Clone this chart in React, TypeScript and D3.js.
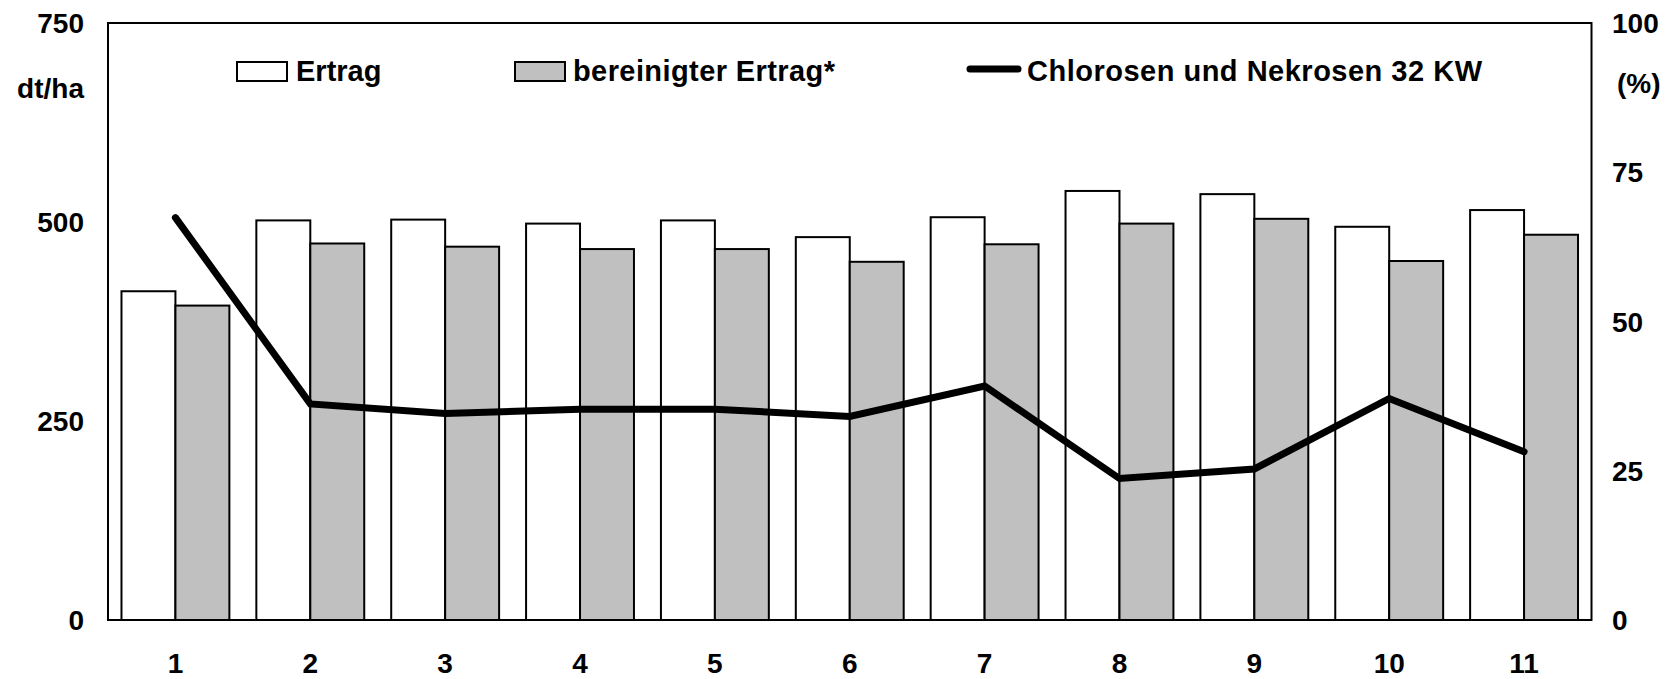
import * as d3 from "d3";

const categories = ["1", "2", "3", "4", "5", "6", "7", "8", "9", "10", "11"];
const ertrag = [413, 502, 503, 498, 502, 481, 506, 539, 535, 494, 515];
const bereinigt = [395, 473, 469, 466, 466, 450, 472, 498, 504, 451, 484];
const chlorosen = [67.4, 36.2, 34.6, 35.3, 35.3, 34.1, 39.2, 23.7, 25.3, 37.1, 28.2];
const leftTicks = [0, 250, 500, 750];
const rightTicks = [0, 25, 50, 75, 100];
const seriesKeys = ["ertrag", "bereinigt"];

const width = 1675;
const height = 679;
const margin = { top: 23, right: 83.5, bottom: 59, left: 108 };
const font = "'Liberation Sans', Arial, sans-serif";

export default function App() {
  const innerRight = width - margin.right;
  const innerBottom = height - margin.bottom;

  const x0 = d3
    .scaleBand<string>()
    .domain(categories)
    .range([margin.left, innerRight])
    .paddingInner(0.2)
    .paddingOuter(0.1);

  const x1 = d3
    .scaleBand<string>()
    .domain(seriesKeys)
    .range([0, x0.bandwidth()])
    .padding(0);

  const yLeft = d3.scaleLinear().domain([0, 750]).range([innerBottom, margin.top]);
  const yRight = d3.scaleLinear().domain([0, 100]).range([innerBottom, margin.top]);

  const line = d3
    .line<number>()
    .x((_d, i) => (x0(categories[i]) ?? 0) + x0.bandwidth() / 2)
    .y((d) => yRight(d));

  const fills: Record<string, string> = { ertrag: "#ffffff", bereinigt: "#c0c0c0" };
  const values: Record<string, number[]> = { ertrag, bereinigt };

  return (
    <svg
      width={width}
      height={height}
      style={{ position: "absolute", left: 0, top: 0, background: "#fff" }}
      fontFamily={font}
      fontWeight="bold"
    >
      <rect x={0} y={0} width={width} height={height} fill="#fff" />

      {categories.map((c, i) => (
        <g key={c} transform={`translate(${x0(c)},0)`}>
          {seriesKeys.map((k) => {
            const v = values[k][i];
            return (
              <rect
                key={k}
                x={x1(k)}
                y={yLeft(v)}
                width={x1.bandwidth()}
                height={innerBottom - yLeft(v)}
                fill={fills[k]}
                stroke="#000"
                strokeWidth={2}
              />
            );
          })}
        </g>
      ))}

      <path
        d={line(chlorosen) ?? ""}
        fill="none"
        stroke="#000"
        strokeWidth={7}
        strokeLinecap="round"
        strokeLinejoin="miter"
      />

      <rect
        x={margin.left}
        y={margin.top}
        width={innerRight - margin.left}
        height={innerBottom - margin.top}
        fill="none"
        stroke="#000"
        strokeWidth={2}
      />

      {leftTicks.map((t) => (
        <text key={t} x={84} y={yLeft(t)} dy="0.36em" textAnchor="end" fontSize={28}>
          {t}
        </text>
      ))}
      <text x={84} y={98} textAnchor="end" fontSize={28}>
        dt/ha
      </text>

      {rightTicks.map((t) => (
        <text key={t} x={1612} y={yRight(t)} dy="0.36em" textAnchor="start" fontSize={28}>
          {t}
        </text>
      ))}
      <text x={1617} y={93} textAnchor="start" fontSize={28}>
        (%)
      </text>

      {categories.map((c) => (
        <text
          key={c}
          x={(x0(c) ?? 0) + x0.bandwidth() / 2}
          y={673}
          textAnchor="middle"
          fontSize={28}
        >
          {c}
        </text>
      ))}

      {/* legend */}
      <rect x={237} y={62} width={50} height={19} fill="#fff" stroke="#000" strokeWidth={2} />
      <text x={296} y={81} fontSize={29}>
        Ertrag
      </text>
      <rect x={515} y={62} width={50} height={19} fill="#c0c0c0" stroke="#000" strokeWidth={2} />
      <text x={573} y={81} fontSize={29} textLength={262} lengthAdjust="spacing">
        bereinigter Ertrag*
      </text>
      <line
        x1={970}
        x2={1018}
        y1={69}
        y2={69}
        stroke="#000"
        strokeWidth={7}
        strokeLinecap="round"
      />
      <text x={1027} y={81} fontSize={29} textLength={455} lengthAdjust="spacing">
        Chlorosen und Nekrosen 32 KW
      </text>
    </svg>
  );
}
